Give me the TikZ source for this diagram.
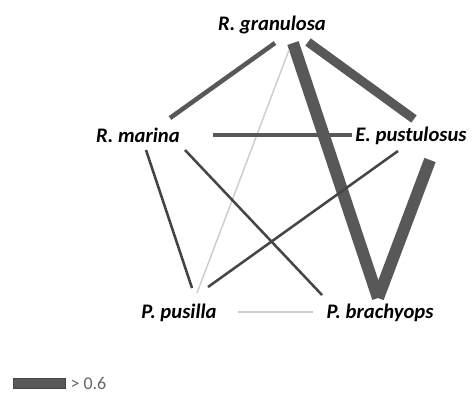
\documentclass[tikz,border=0pt]{standalone}
\usepackage{fontspec}
\setmainfont{Carlito}
\usepackage{tikz}
\usetikzlibrary{positioning}

\definecolor{tiegray}{RGB}{88,88,88}
\definecolor{darkgray}{RGB}{70,70,70}
\definecolor{palegray}{RGB}{205,205,205}

\begin{document}
\begin{tikzpicture}[
x=0.75pt, y=-0.75pt,
species/.style={font=\fontsize{15.5}{17}\selectfont\bfseries\itshape, inner sep=0pt},
weak/.style={draw=palegray, line width=1.1pt},
mid/.style={draw=darkgray, line width=1.9pt},
strong/.style={draw=tiegray, line width=3.4pt},
stronger/.style={draw=tiegray, line width=6.8pt},
strongest/.style={draw=tiegray, line width=9pt}
]
\useasboundingbox (0,0) rectangle (473,394);

\node[species] (rgran) at (272,25) {R. granulosa};
\node[species] (rmarina) at (138,135) {R. marina};
\node[species] (epust) at (411,136) {E. pustulosus};
\node[species] (ppusilla) at (179,313) {P. pusilla};
\node[species] (pbrach) at (380,313) {P. brachyops};

% links between species
\draw[strong] ([shift={(3,18)}]rgran.center) -- ([shift={(32,-17)}]rmarina.center);
\draw[stronger] ([shift={(36,17)}]rgran.center) -- ([shift={(3,-17)}]epust.center);
\draw[strongest] ([shift={(21,18)}]rgran.center) -- ([shift={(-2,-15)}]pbrach.center);
\draw[weak] ([shift={(17,25)}]rgran.center) -- ([shift={(18,-20)}]ppusilla.center);
\draw[strong] ([shift={(75,0)}]rmarina.center) -- ([shift={(-59,-1)}]epust.center);
\draw[mid] ([shift={(8,15)}]rmarina.center) -- ([shift={(13,-25)}]ppusilla.center);
\draw[mid] ([shift={(47,15)}]rmarina.center) -- ([shift={(-58,-18)}]pbrach.center);
\draw[mid] ([shift={(-13,15)}]epust.center) -- ([shift={(29,-26)}]ppusilla.center);
\draw[strongest] ([shift={(19,24)}]epust.center) -- ([shift={(-2,-15)}]pbrach.center);
\draw[weak] ([shift={(59,-1)}]ppusilla.center) -- ([shift={(-67,-1)}]pbrach.center);

% legend
\node[fill=tiegray, draw=darkgray, line width=0.4pt, minimum width=52*0.75pt, minimum height=10*0.75pt, inner sep=0pt] (key) at (39,383) {};
\node[right=5*0.75pt of key.east, inner sep=0pt, text=black!60, font=\fontsize{13.5}{15}\selectfont] (keylabel) {> 0.6};
\end{tikzpicture}
\end{document}
